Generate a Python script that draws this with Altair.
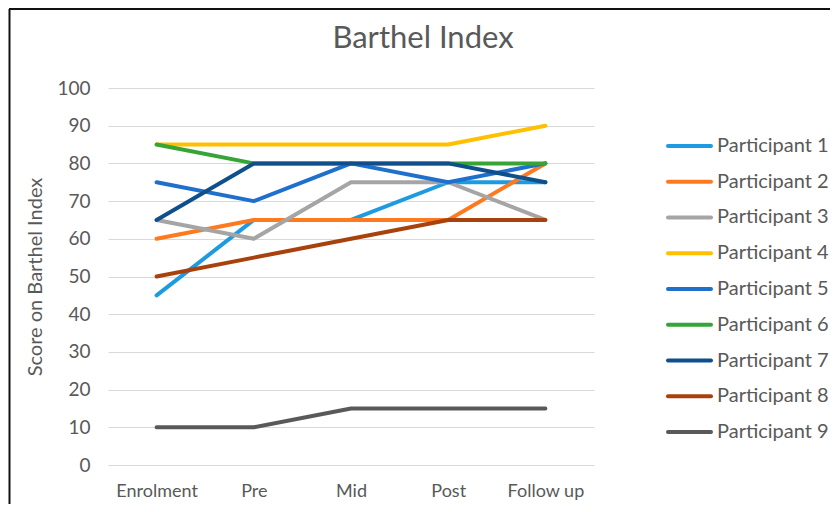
import altair as alt
import pandas as pd

stages = ["Enrolment", "Pre", "Mid", "Post", "Follow up"]
participants = [f"Participant {i}" for i in range(1, 10)]
p1 = [45, 65, 65, 75, 75]
p2 = [60, 65, 65, 65, 80]
p3 = [65, 60, 75, 75, 65]
p4 = [85, 85, 85, 85, 90]
p5 = [75, 70, 80, 75, 80]
p6 = [85, 80, 80, 80, 80]
p7 = [65, 80, 80, 80, 75]
p8 = [50, 55, 60, 65, 65]
p9 = [10, 10, 15, 15, 15]
series = [p1, p2, p3, p4, p5, p6, p7, p8, p9]
colors = ["#1E9BE0", "#FF7A1F", "#A5A5A5", "#FFC000", "#1F6FCC",
          "#36A536", "#0E4F8C", "#A8410B", "#595959"]
chart_title = ["Barthel Index"]

rows = []
for pi, (name, vals) in enumerate(zip(participants, series)):
    for si, (st, v) in enumerate(zip(stages, vals)):
        rows.append({"participant": name, "stage": st, "score": v, "ord": si, "pi": pi})
df = pd.DataFrame(rows)
leg = pd.DataFrame({"participant": participants})
tdf = pd.DataFrame({"t": chart_title})

FONT = "Lato"
GREY = "#595959"

color = alt.Color("participant:N", scale=alt.Scale(domain=participants, range=colors), legend=None)

lines = alt.Chart(df).mark_line(strokeWidth=4, strokeCap="round", strokeJoin="round").encode(
    x=alt.X("stage:N", sort=stages, scale=alt.Scale(type="point", padding=0.5),
            axis=alt.Axis(title=None, labelAngle=0, labelFontSize=18, labelColor=GREY, labelFont=FONT,
                          domain=False, ticks=False, grid=False, labelPadding=17)),
    y=alt.Y("score:Q", scale=alt.Scale(domain=[0, 100], nice=False),
            axis=alt.Axis(title="Score on Barthel Index", titleFontSize=20, titleColor=GREY, titleFont=FONT,
                          titleFontWeight="normal", titlePadding=11,
                          values=list(range(0, 101, 10)), labelFontSize=19, labelColor=GREY, labelFont=FONT,
                          domain=False, ticks=False, grid=True, gridColor="#D9D9D9", gridWidth=1.2,
                          labelPadding=18)),
    color=color,
    detail="participant:N",
    order="ord:Q",
)

leg_y = alt.Y("participant:N", sort=participants, axis=None,
              scale=alt.Scale(domain=participants, range=[40, 362]))

leg_lines = alt.Chart(leg).mark_rule(strokeWidth=4, strokeCap="round").encode(
    x=alt.value(560), x2=alt.value(603), y=leg_y, color=color)
leg_text = alt.Chart(leg).mark_text(align="left", baseline="middle", fontSize=20, font=FONT, color=GREY).encode(
    x=alt.value(609), y=leg_y, text="participant:N")

title_text = alt.Chart(tdf).mark_text(align="center", baseline="middle", fontSize=31, font=FONT, color=GREY).encode(
    x=alt.value(315), y=alt.value(-49), text="t:N")

border_left = alt.Chart(tdf).mark_rule(color="#111111", strokeWidth=2).encode(
    x=alt.value(-98.5), y=alt.value(-79), y2=alt.value(430))
border_top = alt.Chart(tdf).mark_rule(color="#111111", strokeWidth=2).encode(
    x=alt.value(-99), x2=alt.value(730), y=alt.value(-79))

chart = alt.layer(lines, leg_lines, leg_text, title_text, border_left, border_top).resolve_scale(
    y="independent"
).properties(
    width=486, height=377,
    autosize=alt.AutoSizeParams(type="none"),
    padding={"left": 100, "top": 80, "right": 236, "bottom": 39},
    background="white",
).configure_view(stroke=None)

chart.save("out.html", embed_options={"renderer": "svg", "actions": False})
